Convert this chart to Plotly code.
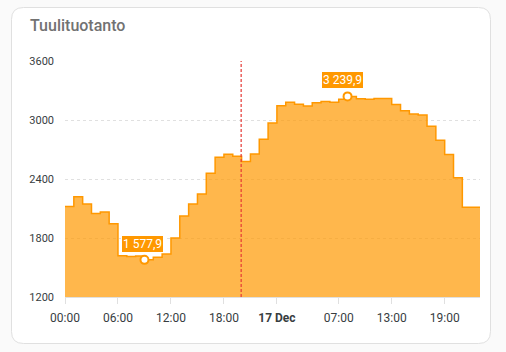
import pandas as pd
import plotly.graph_objects as go

# ---- data ----
times = pd.date_range("2024-12-16 00:00", periods=48, freq="h")
production = [
    2120, 2220, 2145, 2050, 2065, 1945, 1620, 1612, 1617, 1577.9, 1604, 1637,
    1800, 2025, 2145, 2247, 2458, 2621, 2651, 2631, 2578, 2654, 2804, 2969,
    3145, 3180, 3160, 3142, 3175, 3188, 3180, 3210, 3239.9, 3217, 3210, 3218,
    3218, 3157, 3093, 3060, 3052, 2937, 2795, 2648, 2413, 2112, 2112, 2112,
]
now_time = pd.Timestamp("2024-12-16 19:57")
x_tick_vals = pd.to_datetime([
    "2024-12-16 00:00", "2024-12-16 06:00", "2024-12-16 12:00", "2024-12-16 18:00",
    "2024-12-17 00:00", "2024-12-17 07:00", "2024-12-17 13:00", "2024-12-17 19:00",
])
x_tick_text = ["00:00", "06:00", "12:00", "18:00", "<b>17 Dec</b>", "07:00", "13:00", "19:00"]
y_tick_vals = [1200, 1800, 2400, 3000, 3600]
title_text = "Tuulituotanto"

ORANGE = "#FF9800"
FILL = "rgba(255,152,0,0.70)"
TXT = "#373d3f"


def fmt(v):
    return f"{v:,.1f}".replace(",", " ").replace(".", ",")


imin = production.index(min(production))
imax = production.index(max(production))

fig = go.Figure()
fig.add_trace(go.Scatter(
    x=times, y=production, mode="lines", line=dict(shape="hv", color=ORANGE, width=1.5),
    fill="tozeroy", fillcolor=FILL, hoverinfo="skip", showlegend=False,
))
fig.add_trace(go.Scatter(
    x=[times[imin], times[imax]], y=[production[imin], production[imax]], mode="markers",
    marker=dict(size=8, color="white", line=dict(color=ORANGE, width=2)),
    hoverinfo="skip", showlegend=False,
))

for i, xs in ((imin, -2), (imax, -5)):
    fig.add_annotation(
        x=times[i], y=production[i], text=fmt(production[i]), showarrow=False,
        yshift=16, xshift=xs, bgcolor=ORANGE, bordercolor="white", borderwidth=1,
        borderpad=1, font=dict(family="Roboto", size=12, color="white"),
    )

# now line
fig.add_shape(type="line", x0=now_time, x1=now_time, y0=0, y1=1, xref="x", yref="paper",
              line=dict(color="#e53935", width=1.2, dash="3px,2px"), layer="above")

W, H = 506, 352
L, R, T, B = 65, 26, 61, 55
pw, ph = W - L - R, H - T - B


def px(x):
    return (x - L) / pw


def py(y):
    return 1 - (y - T) / ph


def card_path(x0, y0, x1, y1, r):
    # pixel coords (y downwards) -> paper coords
    pts = [
        ("M", [(x0 + r, y0)]), ("L", [(x1 - r, y0)]), ("Q", [(x1, y0), (x1, y0 + r)]),
        ("L", [(x1, y1 - r)]), ("Q", [(x1, y1), (x1 - r, y1)]), ("L", [(x0 + r, y1)]),
        ("Q", [(x0, y1), (x0, y1 - r)]), ("L", [(x0, y0 + r)]), ("Q", [(x0, y0), (x0 + r, y0)]),
    ]
    s = ""
    for cmd, ps in pts:
        s += cmd + " ".join(f"{px(a):.5f},{py(b):.5f}" for a, b in ps) + " "
    return s + "Z"


fig.add_shape(type="path", xref="paper", yref="paper",
              path=card_path(11.5, 7.5, 490.5, 343.5, 12),
              fillcolor="white", line=dict(color="#e0e0e0", width=1), layer="below")

fig.add_annotation(xref="paper", yref="paper", x=px(28), y=py(26), text=title_text,
                   showarrow=False, xanchor="left", yanchor="middle",
                   font=dict(family="Roboto", size=16, color="#727272", weight=500))

fig.update_layout(
    width=W, height=H, margin=dict(l=L, r=R, t=T, b=B),
    paper_bgcolor="#fafafa", plot_bgcolor="rgba(0,0,0,0)",
    font=dict(family="Roboto", color=TXT),
)
fig.update_xaxes(
    range=[times[0], times[-1]], tickvals=x_tick_vals, ticktext=x_tick_text,
    showgrid=False, zeroline=False, showline=True, linecolor="#e0e0e0", linewidth=1,
    ticks="outside", ticklen=6, tickcolor="#e0e0e0", tickfont=dict(size=12, color=TXT),
    ticklabelstandoff=4,
)
fig.update_yaxes(
    range=[1200, 3600], tickvals=y_tick_vals, showgrid=True, gridcolor="#e0e0e0",
    griddash="3px,3px", gridwidth=1, zeroline=False, showline=False,
    tickfont=dict(size=11, color=TXT), ticklabelstandoff=10,
)

fig.write_html("out.html")
